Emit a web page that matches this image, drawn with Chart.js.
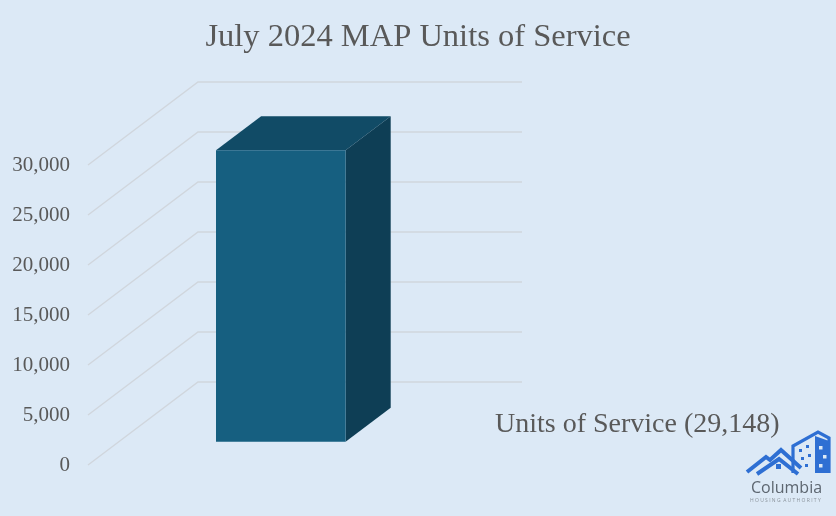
<!DOCTYPE html>
<html><head><meta charset="utf-8">
<script src="https://cdn.jsdelivr.net/npm/chart.js@4/dist/chart.umd.min.js"></script>
<style>
html,body{margin:0;padding:0;background:#DCE9F6;overflow:hidden;}
#wrap{width:836px;height:516px;position:relative;background:#DCE9F6;}
canvas{display:block;}
</style></head><body>
<div id="wrap"><canvas id="c" width="836" height="516" style="width:836px;height:516px"></canvas></div>
<script>
const chartTitle = 'July 2024 MAP Units of Service';
const categories = ['Units of Service'];
const seriesName = 'Units of Service';
const unitsOfService = [29148];
const yTickValues = [0, 5000, 10000, 15000, 20000, 25000, 30000];

const DX = 110, DY = -83;          // floor depth of the 3D box
const BAR_OFF = 0.28, BAR_DEPTH = 0.41;
const FRONT = '#165F80', TOP = '#114B66', SIDE = '#0E3E55';
const TEXT = '#595959';
const fmt = v => Number(v).toLocaleString('en-US');

const threeD = {
  id: 'threeD',
  beforeDatasetsDraw(chart) {
    const {ctx, chartArea: ca, scales: {y}} = chart;
    ctx.save();
    ctx.strokeStyle = '#d0d6dd';
    ctx.lineWidth = 1.4;
    yTickValues.forEach(v => {
      const py = y.getPixelForValue(v);
      ctx.beginPath();
      ctx.moveTo(ca.left, py);
      ctx.lineTo(ca.left + DX, py + DY);
      ctx.lineTo(ca.right + DX, py + DY);
      ctx.stroke();
    });
    const ox = DX * BAR_OFF, oy = DY * BAR_OFF, bx = DX * BAR_DEPTH, by = DY * BAR_DEPTH;
    chart.getDatasetMeta(0).data.forEach(bar => {
      const p = bar.getProps(['x', 'y', 'base', 'width'], true);
      const l = p.x - p.width / 2 + ox, r = p.x + p.width / 2 + ox, t = p.y + oy, b = p.base + oy;
      ctx.fillStyle = TOP;
      ctx.beginPath(); ctx.moveTo(l, t); ctx.lineTo(r, t); ctx.lineTo(r + bx, t + by); ctx.lineTo(l + bx, t + by); ctx.closePath(); ctx.fill();
      ctx.fillStyle = SIDE;
      ctx.beginPath(); ctx.moveTo(r, t); ctx.lineTo(r + bx, t + by); ctx.lineTo(r + bx, b + by); ctx.lineTo(r, b); ctx.closePath(); ctx.fill();
    });
    ctx.translate(ox, oy);
  },
  afterDatasetsDraw(chart) {
    chart.ctx.restore();
  },
  afterDraw(chart) {
    const ctx = chart.ctx;
    ctx.save();
    // legend entry
    ctx.fillStyle = TEXT;
    ctx.font = '28px "Liberation Serif"';
    ctx.textBaseline = 'middle';
    ctx.textAlign = 'left';
    ctx.fillText(seriesName + ' (' + fmt(unitsOfService[0]) + ')', 495, 425);
    // logo
    const blue = '#2E6FD3';
    ctx.strokeStyle = blue; ctx.fillStyle = blue; ctx.lineWidth = 3.2; ctx.lineJoin = 'miter';
    ctx.beginPath(); ctx.moveTo(793, 473); ctx.lineTo(793, 446); ctx.lineTo(818, 432); ctx.lineTo(829, 438); ctx.lineTo(829, 473); ctx.stroke();
    ctx.beginPath(); ctx.moveTo(815, 436); ctx.lineTo(829, 441); ctx.lineTo(829, 473); ctx.lineTo(815, 473); ctx.closePath(); ctx.fill();
    ctx.fillStyle = '#DCE9F6';
    [[819,446],[823,455],[819,464]].forEach(([x,y]) => ctx.fillRect(x, y, 3.5, 3.5));
    ctx.fillStyle = blue;
    [[799,449],[806,445],[801,457],[808,454],[805,464]].forEach(([x,y]) => ctx.fillRect(x, y, 3, 3));
    ctx.lineWidth = 4;
    ctx.beginPath(); ctx.moveTo(747, 472); ctx.lineTo(766, 457); ctx.lineTo(770, 460); ctx.lineTo(781, 450); ctx.lineTo(801, 468); ctx.stroke();
    ctx.beginPath(); ctx.moveTo(757, 474); ctx.lineTo(779, 459); ctx.lineTo(798, 474); ctx.stroke();
    ctx.fillRect(776, 464, 5, 5);
    ctx.fillStyle = '#5D6670';
    ctx.font = '16px "Open Sans"';
    ctx.textBaseline = 'alphabetic';
    ctx.fillText('Columbia', 751, 493);
    ctx.font = '5px "Open Sans"';
    ctx.fillStyle = '#8a929a';
    ctx.fillText('H O U S I N G  A U T H O R I T Y', 750, 502);
    ctx.restore();
  }
};

new Chart(document.getElementById('c'), {
  type: 'bar',
  data: {
    labels: categories,
    datasets: [{
      label: seriesName,
      data: unitsOfService,
      backgroundColor: FRONT,
      borderWidth: 0,
      barPercentage: 0.4,
      categoryPercentage: 1.0,
      clip: false
    }]
  },
  options: {
    responsive: false,
    animation: false,
    devicePixelRatio: 1,
    layout: { padding: { left: 0, right: 0, top: 0, bottom: 51 } },
    plugins: {
      legend: { display: false },
      tooltip: { enabled: false },
      title: {
        display: true,
        text: chartTitle,
        color: TEXT,
        font: { family: '"Liberation Serif"', size: 32.5, weight: 'normal', lineHeight: 1.2 },
        padding: { top: 17.5, bottom: 108.5 }
      }
    },
    scales: {
      x: { display: false },
      y: {
        min: 0, max: 30000,
        afterFit(scale) { scale.width = 88; },
        afterBuildTicks(scale) { scale.ticks = yTickValues.map(v => ({ value: v })); },
        grid: { display: false, drawTicks: false },
        border: { display: false },
        ticks: {
          padding: 18,
          color: TEXT,
          font: { family: '"Liberation Serif"', size: 21 },
          callback: v => fmt(v)
        }
      },
      side: {
        position: 'right',
        display: true,
        afterFit(scale) { scale.width = 424; },
        grid: { display: false, drawTicks: false },
        border: { display: false },
        ticks: { display: false }
      }
    }
  },
  plugins: [threeD]
});
</script>
</body></html>
